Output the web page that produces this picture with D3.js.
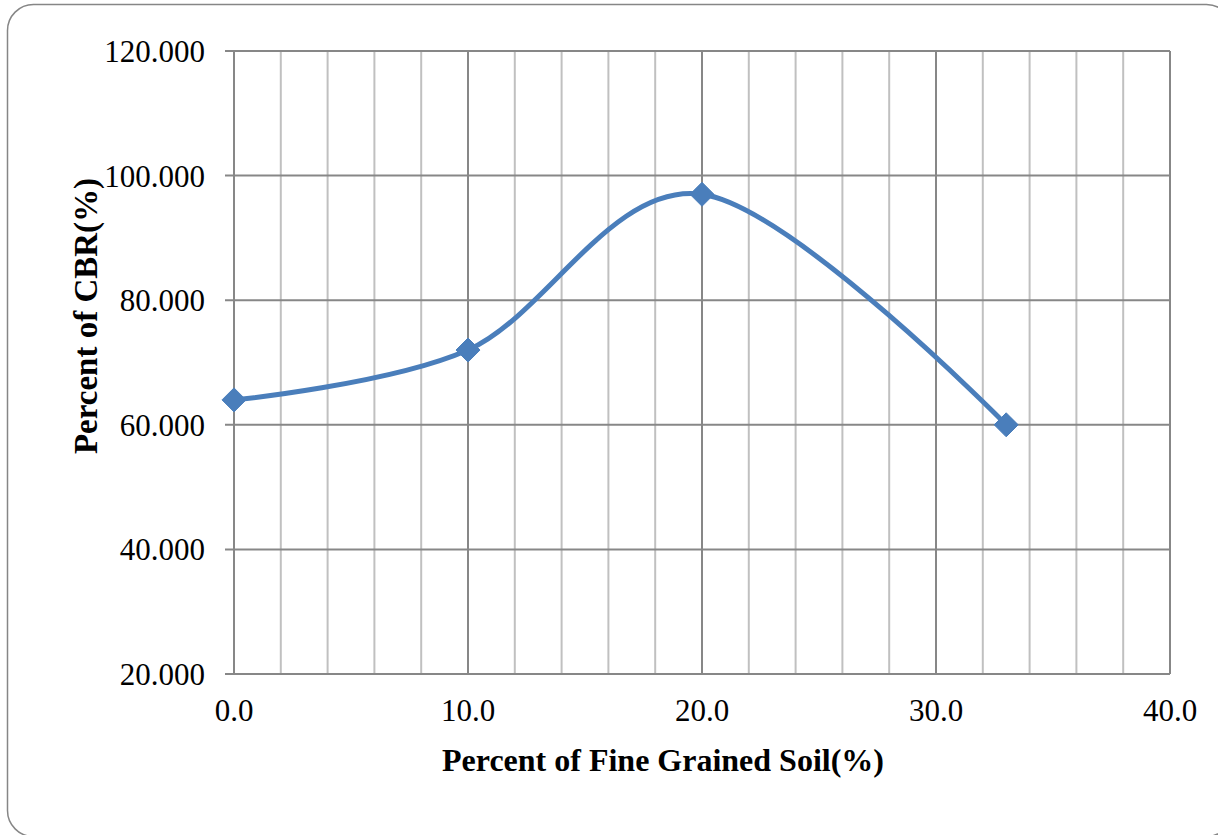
<!DOCTYPE html>
<html>
<head>
<meta charset="utf-8">
<script src="https://cdn.jsdelivr.net/npm/d3@7"></script>
<style>
  body { margin: 0; background: #fff; }
  svg text { font-family: "Liberation Serif", "Times New Roman", serif; fill: #000; }
</style>
</head>
<body>
<svg width="1218" height="835"></svg>
<script>
// data
const fines = [0, 10, 20, 33]
const cbr = [64, 72, 97, 60]
const xTicks = [0, 10, 20, 30, 40]
const yTicks = [20, 40, 60, 80, 100, 120]

const svg = d3.select("svg")

// rounded frame around the whole chart
svg.append("rect")
  .attr("x", 7.5).attr("y", 4.5)
  .attr("width", 1225).attr("height", 832)
  .attr("rx", 26).attr("ry", 26)
  .attr("fill", "none")
  .attr("stroke", "#868686")
  .attr("stroke-width", 1.5)

const plotL = 234, plotR = 1170, plotT = 51, plotB = 674

const x = d3.scaleLinear().domain([0, 40]).range([plotL, plotR])
const y = d3.scaleLinear().domain([20, 120]).range([plotB, plotT])

// minor vertical grid every 2
svg.append("g")
  .selectAll("line")
  .data(d3.range(0, 41, 2).filter(v => v % 10 != 0))
  .enter().append("line")
  .attr("x1", d => x(d)).attr("x2", d => x(d))
  .attr("y1", plotT).attr("y2", plotB)
  .attr("stroke", "#c0c0c0").attr("stroke-width", 2)

// major vertical grid
svg.append("g")
  .selectAll("line")
  .data(xTicks)
  .enter().append("line")
  .attr("x1", d => x(d)).attr("x2", d => x(d))
  .attr("y1", plotT).attr("y2", plotB)
  .attr("stroke", "#878787").attr("stroke-width", 2)

// horizontal grid + ticks out to the left
svg.append("g")
  .selectAll("line")
  .data(yTicks)
  .enter().append("line")
  .attr("x1", plotL - 9).attr("x2", plotR)
  .attr("y1", d => y(d)).attr("y2", d => y(d))
  .attr("stroke", "#878787").attr("stroke-width", 2)

// y tick labels
svg.append("g")
  .selectAll("text")
  .data(yTicks)
  .enter().append("text")
  .attr("x", 205)
  .attr("y", d => y(d) + 11)
  .attr("text-anchor", "end")
  .style("font-size", "31px")
  .text(d => d3.format(".3f")(d))

// x tick labels
svg.append("g")
  .selectAll("text")
  .data(xTicks)
  .enter().append("text")
  .attr("x", d => x(d))
  .attr("y", 721)
  .attr("text-anchor", "middle")
  .style("font-size", "31px")
  .text(d => d3.format(".1f")(d))

// axis titles
svg.append("text")
  .attr("x", 663).attr("y", 771)
  .attr("text-anchor", "middle")
  .style("font-size", "32px").style("font-weight", "bold")
  .text("Percent of Fine Grained Soil(%)")

svg.append("text")
  .attr("transform", "translate(97,316) rotate(-90)")
  .attr("text-anchor", "middle")
  .style("font-size", "33px").style("font-weight", "bold")
  .text("Percent of CBR(%)")

// smoothed series line
const pts = fines.map((f, i) => [f, cbr[i]])
const line = d3.line()
  .x(d => x(d[0]))
  .y(d => y(d[1]))
  .curve(d3.curveCardinal.tension(0))

svg.append("path")
  .datum(pts)
  .attr("d", line)
  .attr("fill", "none")
  .attr("stroke", "#4a7ebb")
  .attr("stroke-width", 5)
  .attr("stroke-linecap", "round")

// diamond markers
svg.append("g")
  .selectAll("path")
  .data(pts)
  .enter().append("path")
  .attr("transform", d => "translate(" + x(d[0]) + "," + y(d[1]) + ")")
  .attr("d", "M0,-12L12,0L0,12L-12,0Z")
  .attr("fill", "#4a7ebb")
  .attr("stroke", "#4a7ebb")
  .attr("stroke-width", 1)
  .attr("stroke-linejoin", "round")
</script>
</body>
</html>
